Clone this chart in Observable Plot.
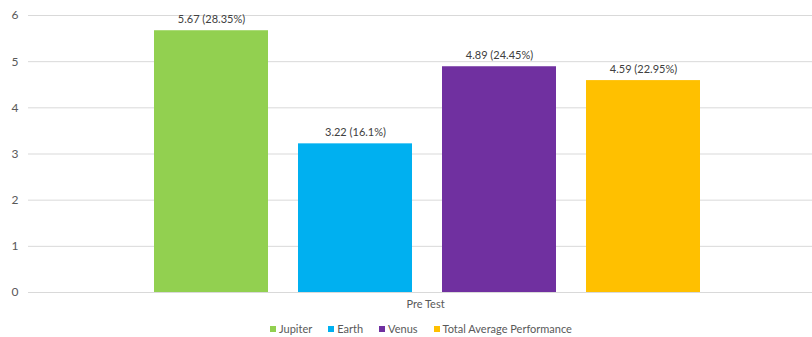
<!DOCTYPE html>
<html>
<head>
<meta charset="utf-8">
<script src="https://cdn.jsdelivr.net/npm/d3@7"></script>
<script src="https://cdn.jsdelivr.net/npm/@observablehq/plot@0.6"></script>
<style>
  html, body { margin: 0; padding: 0; background: #fff; }
  body { width: 812px; height: 337px; overflow: hidden; font-family: Lato, "Open Sans", sans-serif; }
  #legend { display: flex; justify-content: center; gap: 16px; padding-left: 30px; margin-top: 6px;
    font-size: 11px; color: #595959; font-family: Lato, "Open Sans", sans-serif; }
  #legend .item { display: flex; align-items: center; gap: 3px; }
  #legend .sw { width: 6px; height: 6px; display: inline-block; }
</style>
</head>
<body>
<div id="chart"></div>
<div id="legend"></div>
<script>
const series = ["Jupiter", "Earth", "Venus", "Total Average Performance"];
const values = [5.67, 3.22, 4.89, 4.59];
const labels = ["5.67 (28.35%)", "3.22 (16.1%)", "4.89 (24.45%)", "4.59 (22.95%)"];
const colors = ["#92D050", "#00B0F0", "#7030A0", "#FFC000"];
const yTicks = [0, 1, 2, 3, 4, 5, 6];
const category = "Pre Test";

const data = series.map((s, i) => ({series: s, value: values[i], label: labels[i]}));

const chart = Plot.plot({
  width: 812,
  height: 316,
  marginLeft: 28,
  marginRight: 0,
  marginTop: 15,
  marginBottom: 24,
  style: {fontFamily: "Lato, 'Open Sans', sans-serif", fontSize: "11px", color: "#595959", background: "#fff"},
  x: {type: "band", domain: series, range: [153, 701], paddingInner: 0.21, paddingOuter: 0, axis: null},
  y: {domain: [0, 6], label: null},
  color: {domain: series, range: colors},
  marks: [
    Plot.ruleY(yTicks, {stroke: "#d9d9d9", strokeWidth: 1}),
    Plot.axisY(yTicks, {tickSize: 0, tickPadding: 10, label: null, fill: "#595959", fontSize: 12}),
    Plot.barY(data, {x: "series", y: "value", fill: "series"}),
    Plot.text(data, {x: "series", y: "value", text: "label", dy: -11, fill: "#404040", fontSize: 11}),
    Plot.text([category], {frameAnchor: "bottom", dy: 15, dx: 5, fill: "#595959", fontSize: 11})
  ]
});
document.getElementById("chart").appendChild(chart);

const legend = document.getElementById("legend");
series.forEach((s, i) => {
  const item = document.createElement("span");
  item.className = "item";
  const sw = document.createElement("span");
  sw.className = "sw";
  sw.style.background = colors[i];
  item.appendChild(sw);
  item.appendChild(document.createTextNode(s));
  legend.appendChild(item);
});
</script>
</body>
</html>
